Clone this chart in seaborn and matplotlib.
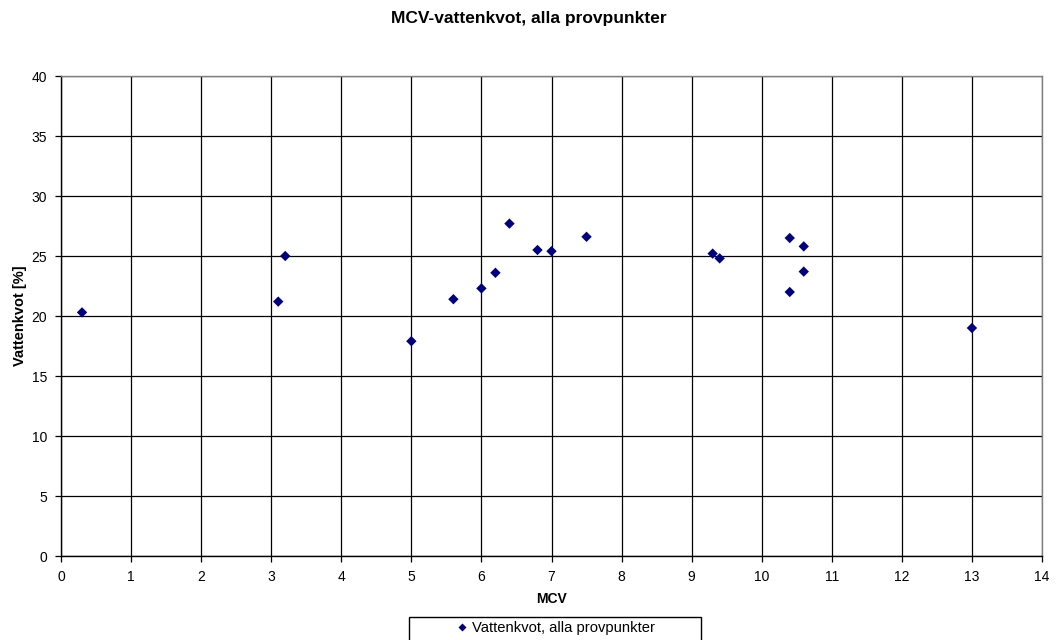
import matplotlib
matplotlib.use("Agg")
import matplotlib.pyplot as plt
from matplotlib.patches import Rectangle
import seaborn as sns
import pandas as pd

mcv = [0.3, 3.1, 3.2, 5.0, 5.6, 6.0, 6.2, 6.4, 6.8, 7.0, 7.5, 9.3, 9.4, 10.4, 10.4, 10.6, 10.6, 13.0]
vattenkvot = [20.3, 21.2, 25.0, 17.9, 21.4, 22.3, 23.6, 27.7, 25.5, 25.4, 26.6, 25.2, 24.8, 26.5, 22.0, 25.8, 23.7, 19.0]
series_name = "Vattenkvot, alla provpunkter"
x_ticks = list(range(0, 15))
y_ticks = list(range(0, 45, 5))

sns.set_style("white")
plt.rcParams["font.family"] = ["Liberation Sans", "DejaVu Sans"]
plt.rcParams["text.color"] = "black"
plt.rcParams["axes.labelcolor"] = "black"
plt.rcParams["xtick.color"] = "black"
plt.rcParams["ytick.color"] = "black"

df = pd.DataFrame({"MCV": mcv, "Vattenkvot": vattenkvot, "serie": series_name})

W, H = 1058, 640
fig = plt.figure(figsize=(W / 100, H / 100), dpi=100)
ax = fig.add_axes([61 / W, 1 - 556 / H, (1042 - 61) / W, (556 - 76) / H])

sns.scatterplot(data=df, x="MCV", y="Vattenkvot", hue="serie",
                palette=["#000080"], marker="D", s=28, edgecolor="none",
                ax=ax, zorder=3)

ax.set_xlim(0, 14)
ax.set_ylim(0, 40)
ax.set_xticks(x_ticks)
ax.set_yticks(y_ticks)
ax.grid(True, color="black", linewidth=0.9)
ax.set_axisbelow(True)
for side in ("left", "bottom"):
    ax.spines[side].set_color("black")
    ax.spines[side].set_linewidth(1.0)
for side in ("top", "right"):
    ax.spines[side].set_color("#808080")
    ax.spines[side].set_linewidth(1.0)
ax.tick_params(axis="both", direction="out", length=4, width=0.9,
               color="black", labelsize=10, bottom=True, left=True, pad=6)

ax.set_xlabel("MCV", fontsize=10, fontweight="bold", labelpad=6)
ax.set_ylabel("Vattenkvot [%]", fontsize=10.5, fontweight="bold", labelpad=3)
fig.text(0.5, 1 - 18 / H, "MCV-vattenkvot, alla provpunkter",
         ha="center", va="center", fontsize=12.5, fontweight="bold")

# legend: single entry centred inside a wide framed box below the x label
handles, labels = ax.get_legend_handles_labels()
if ax.get_legend():
    ax.get_legend().remove()
leg = fig.legend(handles, labels, loc="center",
                 bbox_to_anchor=(556 / W, 1 - 628 / H),
                 frameon=False, fontsize=10.6, handlelength=0.6,
                 handletextpad=0.4, markerscale=0.85,
                 borderpad=0, borderaxespad=0)
fig.add_artist(Rectangle((409 / W, 1 - 645 / H), (701 - 409) / W, (645 - 617) / H,
                         transform=fig.transFigure, facecolor="white",
                         edgecolor="black", linewidth=1.0, zorder=0))

fig.savefig("out.png", dpi=100)
